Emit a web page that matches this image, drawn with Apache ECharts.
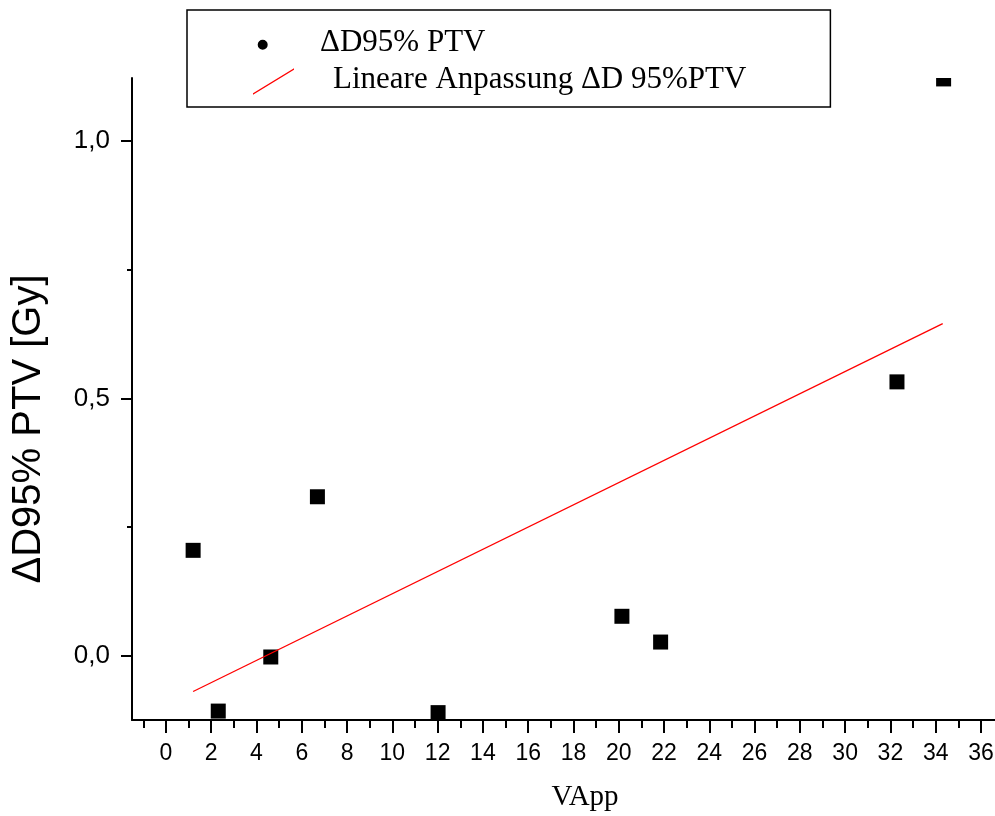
<!DOCTYPE html>
<html>
<head>
<meta charset="utf-8">
<script src="https://cdn.jsdelivr.net/npm/echarts@6/dist/echarts.min.js"></script>
<style>
html,body{margin:0;padding:0;background:#fff;}
#chart{width:995px;height:816px;}
</style>
</head>
<body>
<div id="chart"></div>
<script>
// ---- data ----
const pointX = [1.20, 2.31, 4.63, 6.69, 12.02, 20.14, 21.85, 32.29, 34.35];
const pointY = [0.205, -0.107, -0.002, 0.309, -0.110, 0.077, 0.027, 0.532, 1.120];
const fitX = [1.20, 34.31];
const fitY = [-0.069, 0.645];
const xMajorTicks = [0, 2, 4, 6, 8, 10, 12, 14, 16, 18, 20, 22, 24, 26, 28, 30, 32, 34, 36];
const xMinorTicks = [-1, 1, 3, 5, 7, 9, 11, 13, 15, 17, 19, 21, 23, 25, 27, 29, 31, 33, 35];
const yMajorTicks = [0, 0.5, 1.0];
const yMinorTicks = [0.25, 0.75];
const seriesPointName = 'ΔD95% PTV';
const seriesFitName = 'Lineare Anpassung ΔD 95%PTV';
const xTitle = 'VApp';
const yTitle = 'ΔD95% PTV [Gy]';

const X_MIN = -1.5, X_MAX = 36.62, Y_MIN = -0.1243, Y_MAX = 1.1218;

const chart = echarts.init(document.getElementById('chart'), null, {renderer: 'canvas'});

const circleIcon = 'path://M0,0Z M63,30Z M5.7,16.7 a5,5 0 1,0 10,0 a5,5 0 1,0 -10,0 Z';
const lineIcon = 'path://M0,0Z M63,30Z M1,28.2 L42,3.2 L42,4.8 L1,29.8 Z';

const sans = 'Liberation Sans, Arial, sans-serif';
const serif = 'Liberation Serif, Times New Roman, serif';
const MARKER = 15;

function tickAxis(dimMin, dimMax, pos, values, len) {
  return {
    type: 'value', min: dimMin, max: dimMax, position: pos,
    axisLine: {show: false, onZero: false},
    axisTick: {show: true, customValues: values, length: len, inside: false, lineStyle: {color: '#000', width: 2}},
    axisLabel: {show: false},
    splitLine: {show: false}
  };
}

const option = {
  backgroundColor: '#fff',
  animation: false,
  grid: {left: 132, top: 78, right: 0, bottom: 96, containLabel: false, outerBoundsMode: 'none'},
  legend: {
    orient: 'vertical',
    left: 187,
    top: 10,
    selectedMode: false,
    borderColor: '#000',
    borderWidth: 1.5,
    borderRadius: 0,
    padding: [17.5, 84, 11.5, 65],
    itemWidth: 63,
    itemHeight: 30,
    itemGap: 6,
    symbolKeepAspect: true,
    textStyle: {
      fontFamily: serif, fontSize: 31, lineHeight: 31, color: '#000',
      rich: {p: {width: 13, fontSize: 31, fontFamily: serif}}
    },
    formatter: function (name) {
      return name === seriesFitName ? '{p| }' + name : name;
    },
    data: [
      {name: seriesPointName, icon: circleIcon, itemStyle: {color: '#000', opacity: 1, borderWidth: 0}},
      {name: seriesFitName, icon: lineIcon, itemStyle: {color: '#ff0000', opacity: 1, borderWidth: 0}}
    ]
  },
  xAxis: [
    {
      type: 'value', min: X_MIN, max: X_MAX, position: 'bottom',
      axisLine: {show: true, onZero: false, lineStyle: {color: '#000', width: 2}},
      axisTick: {show: false},
      axisLabel: {show: true, customValues: xMajorTicks, margin: 22, fontSize: 23, fontFamily: sans, color: '#000'},
      splitLine: {show: false},
      name: xTitle, nameLocation: 'middle', nameGap: 63,
      nameTextStyle: {fontFamily: serif, fontSize: 29, color: '#000', padding: [0, 0, 0, 43]}
    },
    tickAxis(X_MIN, X_MAX, 'bottom', xMajorTicks, 13),
    tickAxis(X_MIN, X_MAX, 'bottom', xMinorTicks, 8)
  ],
  yAxis: [
    {
      type: 'value', min: Y_MIN, max: Y_MAX, position: 'left',
      axisLine: {show: true, onZero: false, lineStyle: {color: '#000', width: 2}},
      axisTick: {show: false},
      axisLabel: {
        show: true, customValues: yMajorTicks, margin: 22, fontSize: 26, fontFamily: sans, color: '#000',
        formatter: function (v) { return v.toFixed(1).replace('.', ','); }
      },
      splitLine: {show: false},
      name: yTitle, nameLocation: 'middle', nameRotate: 90, nameGap: 83,
      nameTextStyle: {fontFamily: sans, fontSize: 40, color: '#000', padding: [0, 60, 0, 0]}
    },
    tickAxis(Y_MIN, Y_MAX, 'left', yMajorTicks, 11),
    tickAxis(Y_MIN, Y_MAX, 'left', yMinorTicks, 5)
  ],
  series: [
    {
      name: seriesPointName,
      type: 'custom',
      xAxisIndex: 0, yAxisIndex: 0,
      clip: true,
      encode: {x: 0, y: 1},
      itemStyle: {color: '#000', opacity: 1},
      renderItem: function (params, api) {
        const c = api.coord([api.value(0), api.value(1)]);
        const cs = params.coordSys;
        const shape = echarts.graphic.clipRectByRect(
          {x: c[0] - MARKER / 2, y: c[1] - MARKER / 2, width: MARKER, height: MARKER},
          {x: cs.x, y: cs.y, width: cs.width, height: cs.height}
        );
        return shape && {type: 'rect', shape: shape, style: {fill: '#000'}};
      },
      data: pointX.map(function (x, i) { return [x, pointY[i]]; })
    },
    {
      name: seriesFitName,
      type: 'line',
      xAxisIndex: 0, yAxisIndex: 0,
      showSymbol: false,
      symbol: 'none',
      itemStyle: {color: '#ff0000'},
      lineStyle: {color: '#ff0000', width: 1.3},
      data: fitX.map(function (x, i) { return [x, fitY[i]]; })
    }
  ]
};

chart.setOption(option);
</script>
</body>
</html>
